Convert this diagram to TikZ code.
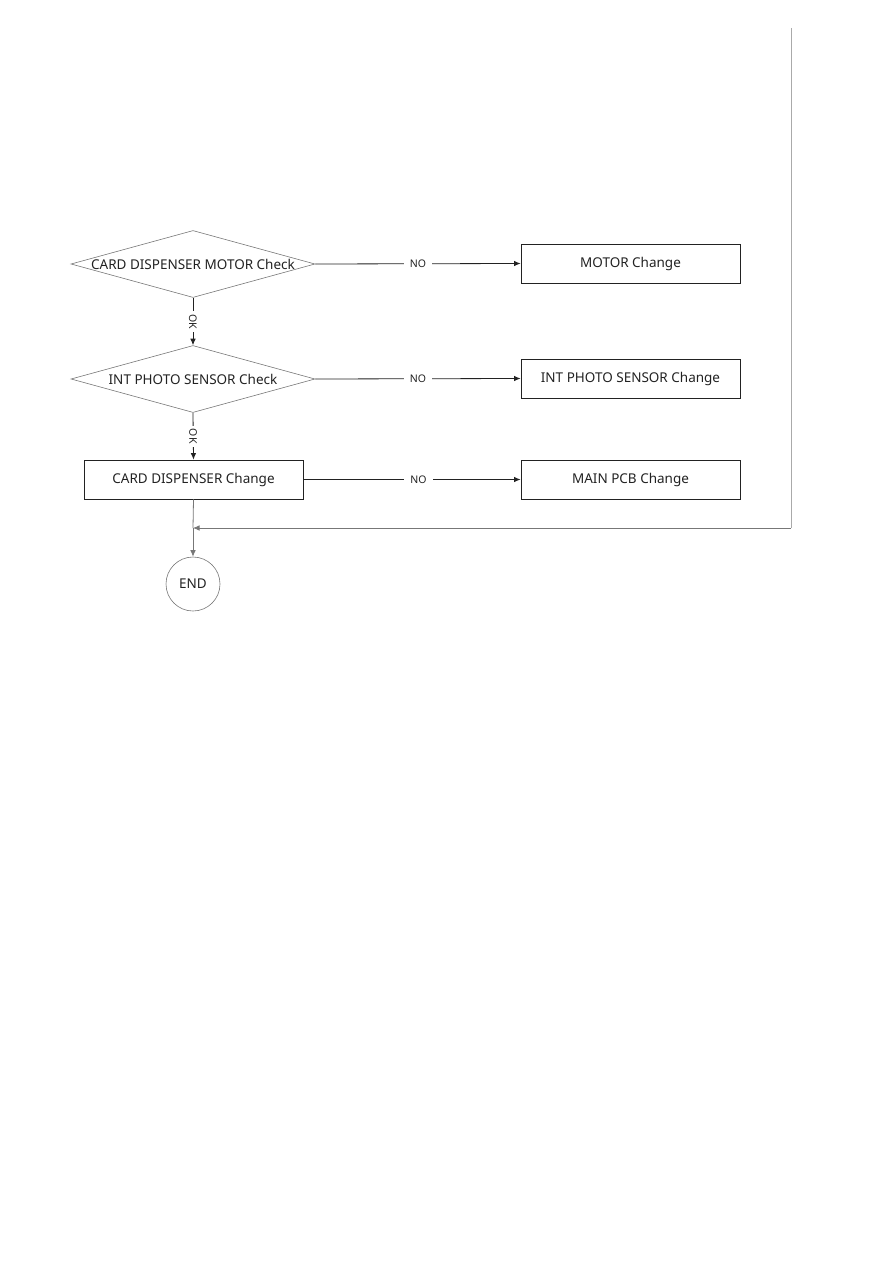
\documentclass[tikz,border=0pt]{standalone}
\usepackage{fontspec}
\setmainfont{Noto Sans}
\usetikzlibrary{arrows.meta,positioning,shapes.geometric}
\definecolor{ink}{HTML}{222222}
\definecolor{edge}{HTML}{777777}
\definecolor{faint}{HTML}{AAAAAA}
\tikzset{
  decision/.style={
    shape=diamond, draw=edge, line width=0.6pt,
    minimum width=244pt, minimum height=67pt,
    inner sep=0pt, font=\fontsize{13.5}{16}\selectfont, text=ink
  },
  action/.style={
    draw=ink, line width=0.9pt,
    minimum width=219pt, minimum height=39pt,
    inner sep=0pt, font=\fontsize{13.5}{16}\selectfont, text=ink
  },
  stopnode/.style={
    circle, draw=edge, line width=0.6pt,
    minimum size=54pt, inner sep=0pt,
    font=\fontsize{13.5}{16}\selectfont, text=ink
  },
  arrow/.style={-{Latex[length=6.5pt,width=5.5pt]}, line width=0.8pt, draw=ink},
  greyarr/.style={-{Latex[length=6.5pt,width=5.5pt]}, line width=0.8pt, draw=edge},
  tag/.style={
    fill=white, inner xsep=6pt, inner ysep=1pt,
    font=\fontsize{10.5}{12}\selectfont, text=ink
  }
}

\begin{document}
\begin{tikzpicture}[x=1pt,y=-1pt]
  \useasboundingbox (0,0) rectangle (893,1263);

  % checks down the left
  \node[decision] (motorchk) at (193,264) {\makebox[0pt]{CARD DISPENSER MOTOR Check}};
  \node[decision] (sensorchk) at (193,379) {\makebox[0pt]{INT PHOTO SENSOR Check}};
  \node[action] (dispchg) at (193.5,479.5) {CARD DISPENSER Change};
  \node[stopnode] (finish) at (193,584) {END};

  % changes on the right
  \node[action] (motorchg) at (630.5,263.5) {MOTOR Change};
  \node[action] (sensorchg) at (630.5,378.5) {INT PHOTO SENSOR Change};
  \node[action] (pcbchg) at (630.5,479.5) {MAIN PCB Change};

  \coordinate (looptop) at (791,28);
  \coordinate (loopcorner) at (791,528);
  \coordinate (merge) at (193,528);

  % NO branches
  \draw[arrow] (motorchk.east) -- node[tag] {NO} (motorchg.west);
  \draw[arrow] (sensorchk.east) -- node[tag] {NO} (sensorchg.west);
  \draw[arrow] (dispchg.east) -- node[tag, pos=0.53] {NO} (pcbchg.west);

  % OK branches
  \draw[arrow] (motorchk.south) -- node[tag, rotate=-90, inner xsep=3pt, inner ysep=0pt] {OK} (sensorchk.north);
  \draw[arrow] (sensorchk.south) -- node[tag, rotate=-90, inner xsep=3pt, inner ysep=0pt] {OK} (dispchg.north);

  % return line
  \draw[faint, line width=0.8pt] (looptop) -- (loopcorner);
  \draw[greyarr] (loopcorner) -- (merge);
  \draw[edge, line width=0.8pt] (dispchg.south) -- (merge);
  \draw[greyarr] (merge) -- (finish.north);
\end{tikzpicture}
\end{document}
